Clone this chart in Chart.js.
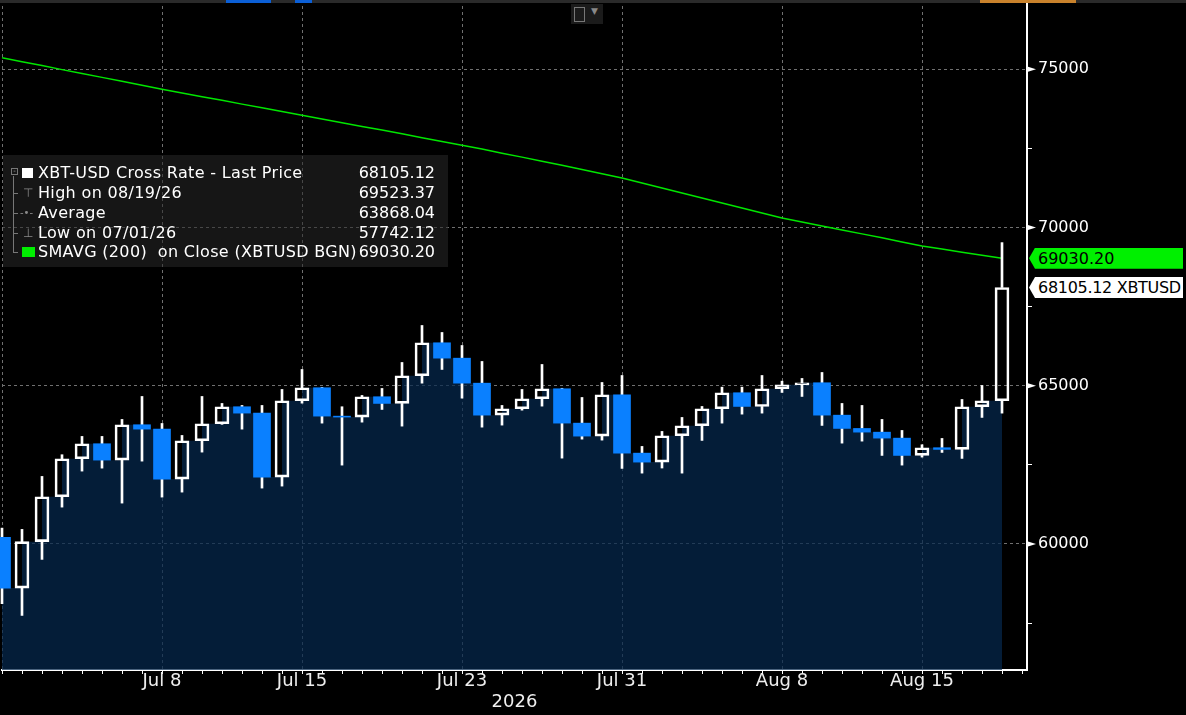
<!DOCTYPE html>
<html>
<head>
<meta charset="utf-8">
<title>XBT-USD Cross Rate</title>
<script src="https://cdn.jsdelivr.net/npm/chart.js@4.4.1/dist/chart.umd.min.js"></script>
<style>
  html, body { margin: 0; padding: 0; background: #000; }
  #wrap { position: relative; width: 1186px; height: 715px; overflow: hidden; background: #000; font-family: 'DejaVu Sans', sans-serif; }
  #myChart { position: absolute; left: 0; top: 0; }
  .topbar { position: absolute; left: 0; top: 0; width: 1186px; height: 3px; background: #2a2a2a; }
  .seg { position: absolute; top: 0; height: 3px; }
  .icon { position: absolute; left: 571px; top: 4px; width: 32px; height: 20px; background: #1b1b1b; }
  .icon .pic { position: absolute; left: 3px; top: 3px; width: 9px; height: 13px; border: 1px solid #777; }
  .icon .arr { position: absolute; left: 20px; top: 2px; font-size: 9px; color: #888; }
  #legendBox { position: absolute; left: 3px; top: 155px; width: 445px; height: 112px; background: rgba(40,40,40,0.55); color: #fff; font-size: 16px; }
  .row { position: absolute; left: 0; width: 445px; height: 20px; line-height: 20px; }
  .row .lbl { position: absolute; left: 35px; white-space: pre; letter-spacing: 0.33px; }
  .row .val { position: absolute; right: 13px; white-space: nowrap; }
  .row .mk { position: absolute; }
  .tree { position: absolute; background: #777; }
  .tag { position: absolute; left: 1029px; width: 154px; height: 21px; line-height: 21px; font-size: 16px; color: #000; padding-left: 9px; box-sizing: border-box; white-space: nowrap;
         clip-path: polygon(0 50%, 6px 0, 100% 0, 100% 100%, 6px 100%); }
</style>
</head>
<body>
<div id="wrap">
  <canvas id="myChart" width="1186" height="715"></canvas>
  <div class="topbar"></div>
  <div class="seg" style="left:226px;width:45px;background:#0b5fd6"></div>
  <div class="seg" style="left:295px;width:17px;background:#0b5fd6"></div>
  <div class="seg" style="left:980px;width:96px;background:#c9822c"></div>
  <div class="icon"><div class="pic"></div><span class="arr">&#9660;</span></div>
  <div id="legendBox"></div>
  <div id="tagSma" class="tag" style="background:#00f000"></div>
  <div id="tagLast" class="tag" style="background:#fff;letter-spacing:-0.3px"></div>
</div>
<script>
// Jun 30 .. Aug 19 2026, index -1 = Jun 30, 0 = Jul 1
const dayIdx = [-1, 0, 1, 2, 3, 4, 5, 6, 7, 8, 9, 10, 11, 12, 13, 14, 15, 16, 17, 18, 19, 20, 21, 22, 23, 24,
    25, 26, 27, 28, 29, 30, 31, 32, 33, 34, 35, 36, 37, 38, 39, 40, 41, 42, 43, 44, 45, 46, 47, 48, 49]

const openP = [60208, 58607, 60073, 61494, 62694, 63168, 62650, 63768, 63629, 62050, 63263, 63800, 64337, 64135,
    62113, 64526, 64937, 64040, 64010, 64653, 64441, 65316, 66358, 65872, 65082, 64071, 64274, 64589, 64905,
    63819, 63408, 64716, 62871, 62587, 63421, 63737, 64274, 64779, 64346, 64905, 65032, 65095, 64071, 63651,
    63534, 63345, 62798, 63042, 62988, 64337, 64526]
const highP = [60502, 60461, 62135, 62821, 63399, 63399, 63936, 64662, 63809, 63430, 64662, 64441, 64378, 64378,
    64883, 65515, 64950, 64337, 64694, 64915, 65736, 66905, 66684, 66273, 65768, 64378, 64883, 65673, 64920,
    64630, 65104, 65325, 63083, 63557, 63999, 64346, 64956, 64956, 65325, 65145, 65231, 65420, 64441, 64378,
    63936, 63588, 63136, 63335, 64567, 65009, 69523.37]
const lowP = [58114, 57742.12, 59513, 61165, 62303, 62397, 61292, 62618, 61481, 61639, 62903, 63780, 63629, 61766,
    61829, 64450, 63819, 62492, 63850, 64251, 63724, 65082, 65515, 64608, 63692, 63756, 64229, 64356, 62713,
    63313, 63282, 62388, 62239, 62400, 62239, 63272, 63819, 64103, 64135, 64788, 64662, 63746, 63187, 63250,
    62798, 62492, 62745, 62893, 62704, 63999, 64135]
const closeP = [58607, 60073, 61494, 62694, 63168, 62650, 63768, 63629, 62050, 63263, 63800, 64337, 64135, 62113,
    64526, 64937, 64040, 64010, 64653, 64441, 65316, 66358, 65872, 65082, 64071, 64274, 64589, 64905, 63819,
    63408, 64716, 62871, 62587, 63421, 63737, 64274, 64779, 64346, 64905, 65032, 65095, 64071, 63651, 63534,
    63345, 62798, 63042, 62988, 64337, 64526, 68105.12]
const smaVals = [75366, 75240, 75118, 74990, 74870, 74745, 74620, 74495, 74368, 74250, 74135, 74020, 73900,
    73785, 73665, 73547, 73430, 73312, 73195, 73080, 72960, 72840, 72720, 72600, 72480, 72350, 72225, 72095,
    71965, 71835, 71700, 71567, 71410, 71250, 71090, 70930, 70775, 70615, 70460, 70303, 70175, 70050, 69925,
    69800, 69675, 69545, 69419, 69320, 69220, 69125, 69030.20]

const xTickIdx = [7, 14, 22, 30, 38, 45]
const xTickLabels = ['Jul 8', 'Jul 15', 'Jul 23', 'Jul 31', 'Aug 8', 'Aug 15']
const xGridIdx = [-1, 7, 14, 22, 30, 38, 45]
const yTickVals = [57500, 60000, 62500, 65000, 67500, 70000, 72500, 75000]
const yLabelVals = [60000, 65000, 70000, 75000]

const legendLabels = ['XBT-USD Cross Rate - Last Price', 'High on 08/19/26', 'Average', 'Low on 07/01/26', 'SMAVG (200)  on Close (XBTUSD BGN)']
const legendValues = ['68105.12', '69523.37', '63868.04', '57742.12', '69030.20']

const upBody = [], downBody = [], upperWick = [], lowerWick = [], areaPts = [], smaPts = []
dayIdx.forEach((d, i) => {
    const o = openP[i], c = closeP[i]
    if (c >= o) upBody.push({x: d, y: [o, c]})
    else downBody.push({x: d, y: [o, c]})
    upperWick.push({x: d, y: [Math.max(o, c), highP[i]]})
    lowerWick.push({x: d, y: [lowP[i], Math.min(o, c)]})
    areaPts.push({x: d, y: c})
    smaPts.push({x: d, y: smaVals[i]})
})

// legend box
const legendBox = document.getElementById('legendBox')
const gray = '#8a8a8a'
legendLabels.forEach((txt, i) => {
    const row = document.createElement('div')
    row.className = 'row'
    row.style.top = (7.7 + i * 20 - (i == 4 ? 1 : 0)) + 'px'
    let icon = ''
    if (i == 0) icon = '<span class="mk" style="left:19px;top:5px;width:11px;height:10px;background:#fff"></span>'
    if (i == 1) icon = '<span class="mk" style="left:20px;top:0;font-size:12px;color:' + gray + '">&#8868;</span>'
    if (i == 2) icon = '<span class="mk" style="left:17px;top:0;font-size:10px;color:' + gray + '">-&#8226;-</span>'
    if (i == 3) icon = '<span class="mk" style="left:20px;top:0;font-size:12px;color:' + gray + '">&#8869;</span>'
    if (i == 4) icon = '<span class="mk" style="left:19px;top:5px;width:13px;height:10px;background:#00ee00"></span>'
    row.innerHTML = icon + '<span class="lbl">' + txt + '</span><span class="val">' + legendValues[i] + '</span>'
    legendBox.appendChild(row)
})
const treeV = document.createElement('div')
treeV.className = 'tree'
treeV.style.cssText = 'left:10px;top:21px;width:1px;height:76px'
legendBox.appendChild(treeV)
const treeBox = document.createElement('div')
treeBox.style.cssText = 'position:absolute;left:8px;top:13px;width:5px;height:5px;border:1px solid #777;font-size:7px;line-height:5px;color:#aaa;text-align:center'
treeBox.textContent = '-'
legendBox.appendChild(treeBox)
for (let i = 1; i < 5; i++) {
    const stub = document.createElement('div')
    stub.className = 'tree'
    stub.style.cssText = 'left:10px;width:5px;height:1px;top:' + (17.7 + i * 20 - (i == 4 ? 1 : 0)) + 'px'
    legendBox.appendChild(stub)
}

const yArrows = {
    id: 'yArrows',
    afterDraw(chart) {
        const ys = chart.scales.y
        const c = chart.ctx
        c.save()
        c.fillStyle = '#fff'
        yLabelVals.forEach(v => {
            const py = ys.getPixelForValue(v)
            c.beginPath()
            c.moveTo(ys.left + 1, py - 2.5)
            c.lineTo(ys.left + 1, py + 2.5)
            c.lineTo(ys.left + 9, py)
            c.closePath()
            c.fill()
        })
        c.restore()
    }
}

const tickFont = {family: "'DejaVu Sans', sans-serif", size: 16}
const xFont = {family: "'DejaVu Sans', sans-serif", size: 18}
let ctx = document.getElementById('myChart').getContext('2d')
let myChart = new Chart(ctx, {
    type: 'bar',
    data: {
        datasets: [
            {type: 'bar', data: downBody, backgroundColor: '#0a80ff', borderWidth: 0, barThickness: 17, grouped: false, clip: false, order: 1},
            {type: 'bar', data: upBody, backgroundColor: 'rgba(0,0,0,0)', borderColor: '#fff', borderWidth: 2, borderSkipped: false,
                barThickness: 14, grouped: false, clip: false, order: 1},
            {type: 'bar', data: upperWick, backgroundColor: '#fff', barThickness: 2, grouped: false, clip: false, order: 2},
            {type: 'bar', data: lowerWick, backgroundColor: '#fff', barThickness: 2, grouped: false, clip: false, order: 2},
            {type: 'line', data: smaPts, borderColor: '#00e600', borderWidth: 1.5, pointRadius: 0, tension: 0, fill: false, order: 5},
            {type: 'line', data: areaPts, stepped: true, borderWidth: 0, pointRadius: 0, fill: 'start',
                backgroundColor: 'rgba(5,40,78,0.72)', order: 10}
        ]
    },
    options: {
        responsive: false,
        animation: false,
        events: [],
        layout: {padding: {left: 2, top: 0, right: 0, bottom: 0}, autoPadding: false},
        plugins: {legend: {display: false}, tooltip: {enabled: false}},
        scales: {
            x: {
                type: 'linear',
                offset: false,
                min: -1,
                max: 50.25,
                afterBuildTicks: scale => {
                    const t = []
                    for (let d = -1; d <= 50; d++) t.push({value: d})
                    scale.ticks = t
                },
                afterFit: scale => {
                    scale.height = 45
                    scale.paddingLeft = 0
                    scale.paddingRight = 0
                },
                ticks: {
                    autoSkip: false, maxRotation: 0, minRotation: 0, padding: -3,
                    color: '#eeeeee', font: xFont,
                    callback: v => {
                        const k = xTickIdx.indexOf(v)
                        return k >= 0 ? xTickLabels[k] : ''
                    }
                },
                grid: {
                    offset: false,
                    color: c => (c.tick && xGridIdx.includes(c.tick.value)) ? '#707070' : 'rgba(0,0,0,0)',
                    tickColor: '#fff', tickLength: 4, lineWidth: 1
                },
                border: {color: '#fff', width: 2, dash: [3, 3]},
                title: {display: true, text: '2026', color: '#eeeeee', font: xFont, padding: {top: 0, bottom: 1.5}}
            },
            y: {
                type: 'linear',
                position: 'right',
                min: 56018,
                max: 77190,
                afterBuildTicks: scale => { scale.ticks = yTickVals.map(v => ({value: v})) },
                afterFit: scale => {
                    scale.width = 159
                    scale.paddingTop = 0
                    scale.paddingBottom = 0
                },
                ticks: {
                    padding: 6, color: '#fff', font: tickFont,
                    callback: v => yLabelVals.includes(v) ? String(v) : ''
                },
                grid: {
                    color: c => (c.tick && yLabelVals.includes(c.tick.value)) ? '#707070' : 'rgba(0,0,0,0)',
                    tickColor: c => (c.tick && yLabelVals.includes(c.tick.value)) ? 'rgba(0,0,0,0)' : '#fff',
                    tickLength: 5, lineWidth: 1
                },
                border: {color: '#fff', width: 2, dash: [3, 3]}
            }
        }
    },
    plugins: [yArrows]
})

// price tags on the right axis
const ys = myChart.scales.y
const tagSma = document.getElementById('tagSma')
const tagLast = document.getElementById('tagLast')
tagSma.textContent = smaVals[smaVals.length - 1].toFixed(2)
tagLast.textContent = closeP[closeP.length - 1].toFixed(2) + ' XBTUSD'
tagSma.style.top = (ys.getPixelForValue(smaVals[smaVals.length - 1]) - 10.5) + 'px'
tagLast.style.top = (ys.getPixelForValue(closeP[closeP.length - 1]) - 10.5) + 'px'
</script>
</body>
</html>
